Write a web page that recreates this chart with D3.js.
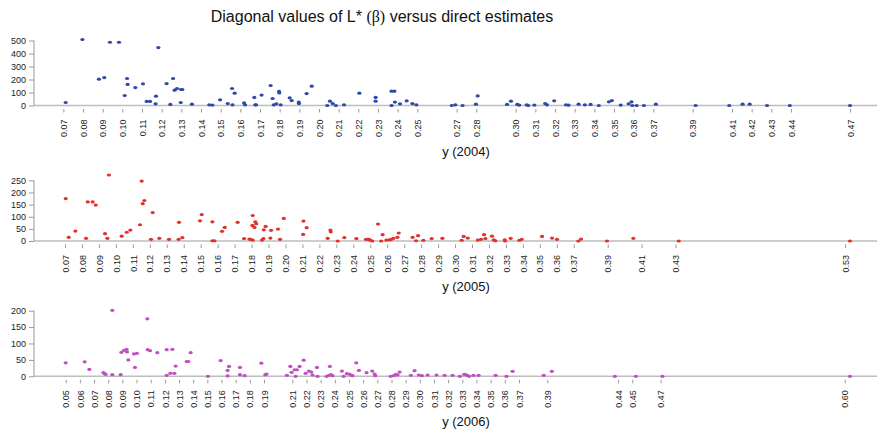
<!DOCTYPE html>
<html>
<head>
<meta charset="utf-8">
<script src="https://cdn.jsdelivr.net/npm/d3@7"></script>
<style>
  body { margin: 0; background: #fff; }
  text { font-family: "Liberation Sans", Arial, Helvetica, sans-serif; }
</style>
</head>
<body>
<div id="vis"></div>
<script>
// [x, value] pairs
const pts2004 = [
  [0.0712, 23], [0.0797, 508], [0.0881, 203], [0.0908, 215], [0.0937, 487], [0.0983, 487],
  [0.1012, 77], [0.1024, 208], [0.1027, 162], [0.1066, 138], [0.1105, 167], [0.1124, 31],
  [0.1141, 31], [0.1169, 13], [0.1171, 72], [0.1183, 446], [0.1225, 169], [0.1244, 8],
  [0.1258, 208], [0.1266, 118], [0.1278, 131], [0.1297, 23], [0.1298, 123], [0.1305, 123],
  [0.1354, 10], [0.1442, 5], [0.1458, 3], [0.1497, 44], [0.1536, 15], [0.1558, 131],
  [0.1560, 5], [0.1571, 95], [0.1619, 20], [0.1624, 5], [0.1671, 62], [0.1676, 5],
  [0.1680, 5], [0.1708, 80], [0.1754, 154], [0.1764, 54], [0.1770, 5], [0.1783, 13],
  [0.1797, 108], [0.1798, 97], [0.1805, 5], [0.1851, 59], [0.1861, 38], [0.1897, 26],
  [0.1898, 15], [0.1937, 92], [0.1963, 149], [0.2042, 0], [0.2056, 33], [0.2070, 15],
  [0.2086, 0], [0.2127, 5], [0.2205, 95], [0.2288, 62], [0.2288, 33], [0.2369, 110],
  [0.2383, 110], [0.2369, 0], [0.2386, 26], [0.2412, 13], [0.2446, 36], [0.2475, 15],
  [0.2495, 5], [0.2675, 0], [0.2693, 5], [0.2730, 0], [0.2798, 10], [0.2807, 74],
  [0.2956, 8], [0.2976, 33], [0.3008, 8], [0.3018, 3], [0.3056, 5], [0.3064, 0],
  [0.3095, 3], [0.3150, 15], [0.3159, 5], [0.3196, 36], [0.3256, 5], [0.3269, 3],
  [0.3320, 10], [0.3352, 5], [0.3381, 8], [0.3423, 0], [0.3474, 28], [0.3489, 38],
  [0.3534, 3], [0.3574, 13], [0.3589, 28], [0.3593, 0], [0.3615, 0], [0.3652, 0],
  [0.3713, 10], [0.3915, 0], [0.4086, 0], [0.4154, 10], [0.4190, 10], [0.4278, 0],
  [0.4394, 0], [0.4700, 0]
];

const pts2005 = [
  [0.0704, 175], [0.0722, 15], [0.0761, 41], [0.0824, 11], [0.0834, 161], [0.0863, 161],
  [0.0881, 148], [0.0936, 30], [0.0950, 11], [0.0959, 272], [0.1034, 20], [0.1064, 36],
  [0.1085, 45], [0.1142, 67], [0.1152, 247], [0.1158, 154], [0.1168, 167], [0.1207, 7],
  [0.1217, 117], [0.1256, 11], [0.1313, 7], [0.1370, 7], [0.1372, 77], [0.1392, 14],
  [0.1496, 83], [0.1506, 109], [0.1569, 79], [0.1569, 1], [0.1581, 1], [0.1626, 40],
  [0.1642, 56], [0.1718, 77], [0.1756, 10], [0.1787, 8], [0.1795, 7], [0.1805, 64],
  [0.1807, 105], [0.1807, 4], [0.1817, 56], [0.1822, 79], [0.1828, 71], [0.1862, 4],
  [0.1870, 10], [0.1872, 46], [0.1883, 60], [0.1911, 12], [0.1915, 44], [0.1956, 49],
  [0.1968, 7], [0.1990, 93], [0.2104, 27], [0.2106, 82], [0.2125, 55], [0.2249, 11],
  [0.2265, 45], [0.2267, 38], [0.2308, 0], [0.2347, 14], [0.2418, 10], [0.2475, 7],
  [0.2487, 7], [0.2493, 7], [0.2501, 3], [0.2512, 0], [0.2546, 70], [0.2564, 0],
  [0.2573, 26], [0.2595, 4], [0.2613, 5], [0.2624, 7], [0.2636, 11], [0.2660, 15],
  [0.2668, 33], [0.2750, 15], [0.2770, 1], [0.2782, 22], [0.2813, 3], [0.2862, 10],
  [0.2925, 11], [0.3039, 3], [0.3051, 19], [0.3075, 12], [0.3134, 4], [0.3153, 7],
  [0.3171, 26], [0.3179, 10], [0.3218, 20], [0.3228, 5], [0.3238, 1], [0.3293, 5],
  [0.3295, 0], [0.3328, 11], [0.3379, 3], [0.3393, 7], [0.3513, 19], [0.3572, 12],
  [0.3601, 7], [0.3727, 0], [0.3743, 8], [0.3896, 0], [0.4051, 11], [0.4319, 0],
  [0.5329, 0]
];

const pts2006 = [
  [0.0500, 41], [0.0634, 44], [0.0667, 21], [0.0766, 11], [0.0775, 8], [0.0782, 6],
  [0.0829, 201], [0.0829, 5], [0.0888, 5], [0.0893, 73], [0.0912, 79], [0.0930, 82],
  [0.0933, 74], [0.0942, 50], [0.0982, 68], [0.0989, 27], [0.1003, 70], [0.1076, 175],
  [0.1079, 81], [0.1095, 78], [0.1147, 72], [0.1213, 81], [0.1213, 3], [0.1239, 9],
  [0.1253, 82], [0.1267, 9], [0.1276, 31], [0.1354, 45], [0.1366, 45], [0.1382, 72],
  [0.1504, 0], [0.1594, 48], [0.1643, 18], [0.1643, 1], [0.1653, 30], [0.1730, 27],
  [0.1730, 5], [0.1763, 2], [0.1881, 40], [0.1909, 5], [0.1918, 7], [0.2062, 3],
  [0.2086, 30], [0.2095, 12], [0.2116, 20], [0.2123, 0], [0.2133, 20], [0.2151, 30],
  [0.2180, 49], [0.2194, 9], [0.2217, 16], [0.2234, 13], [0.2243, 4], [0.2274, 27],
  [0.2278, 0], [0.2342, 0], [0.2358, 3], [0.2365, 30], [0.2372, 5], [0.2384, 2],
  [0.2450, 16], [0.2462, 0], [0.2485, 8], [0.2502, 7], [0.2514, 4], [0.2525, 2],
  [0.2551, 41], [0.2570, 18], [0.2624, 11], [0.2664, 16], [0.2681, 7], [0.2685, 2],
  [0.2794, 0], [0.2817, 2], [0.2831, 6], [0.2843, 4], [0.2857, 13], [0.2937, 3],
  [0.2963, 17], [0.2993, 4], [0.3015, 2], [0.3055, 4], [0.3118, 4], [0.3175, 3],
  [0.3231, 3], [0.3283, 0], [0.3313, 6], [0.3323, 5], [0.3334, 3], [0.3348, 0],
  [0.3379, 3], [0.3415, 3], [0.3535, 3], [0.3612, 0], [0.3655, 15], [0.3875, 3],
  [0.3932, 15], [0.4377, 0], [0.4525, 0], [0.4713, 0], [0.6037, 0]
];

const ticks2004 = [0.07, 0.08, 0.09, 0.10, 0.11, 0.12, 0.13, 0.14, 0.15, 0.16, 0.17, 0.18, 0.19,
  0.20, 0.21, 0.22, 0.23, 0.24, 0.25, 0.27, 0.28, 0.30, 0.31, 0.32, 0.33, 0.34, 0.35, 0.36,
  0.37, 0.39, 0.41, 0.42, 0.43, 0.44, 0.47];
const ticks2005 = [0.07, 0.08, 0.09, 0.10, 0.11, 0.12, 0.13, 0.14, 0.15, 0.16, 0.17, 0.18, 0.19,
  0.20, 0.21, 0.22, 0.23, 0.24, 0.25, 0.26, 0.27, 0.28, 0.29, 0.30, 0.31, 0.32, 0.33, 0.34,
  0.35, 0.36, 0.37, 0.39, 0.41, 0.43, 0.53];
const ticks2006 = [0.05, 0.06, 0.07, 0.08, 0.09, 0.10, 0.11, 0.12, 0.13, 0.14, 0.15, 0.16, 0.17,
  0.18, 0.19, 0.21, 0.22, 0.23, 0.24, 0.25, 0.26, 0.27, 0.28, 0.29, 0.30, 0.31, 0.32, 0.33,
  0.34, 0.35, 0.36, 0.37, 0.39, 0.44, 0.45, 0.47, 0.60];

const years = ["2004", "2005", "2006"];

const width = 877, height = 433;
const axisX = 34, plotLeft = 65.7, plotRight = 850, plotH = 66;

const panels = [
  { year: years[0], pts: pts2004, ticks: ticks2004, color: "#2f49a8", base: 105.5 },
  { year: years[1], pts: pts2005, ticks: ticks2005, color: "#e3302b", base: 241 },
  { year: years[2], pts: pts2006, ticks: ticks2006, color: "#c24ec4", base: 376.3 }
];

const svg = d3.select("#vis").append("svg")
  .attr("width", width)
  .attr("height", height);

// title, with the beta in a serif face like the original
const title = svg.append("text")
  .attr("x", 382)
  .attr("y", 22)
  .attr("text-anchor", "middle")
  .style("font-size", "16px")
  .style("fill", "#111");
title.append("tspan").text("Diagonal values of L* ");
title.append("tspan").style("font-family", "'Liberation Serif', 'DejaVu Serif', serif").text("(β)");
title.append("tspan").text(" versus direct estimates");

const fmt = d3.format(".2f");

panels.forEach(p => {
  const x = d3.scaleLinear()
    .domain(d3.extent(p.pts, d => d[0]))
    .range([plotLeft, plotRight]);
  const y = d3.scaleLinear()
    .domain([0, d3.max(p.pts, d => d[1])])
    .range([p.base, p.base - plotH]);
  const yTicks = y.ticks(5);

  const g = svg.append("g");

  // zero line across the panel
  g.append("line")
    .attr("x1", axisX).attr("x2", width)
    .attr("y1", y(0)).attr("y2", y(0))
    .attr("stroke", "#bdbdbd")
    .attr("stroke-width", 1.6);

  // y axis
  const yAxis = g.append("g")
    .attr("transform", `translate(${axisX},0)`)
    .call(d3.axisLeft(y).tickValues(yTicks).tickSize(5).tickPadding(3));
  yAxis.select(".domain").remove();
  yAxis.selectAll(".tick line").attr("stroke", "#999");
  yAxis.selectAll(".tick text")
    .style("font-size", "9px")
    .style("fill", "#222");
  yAxis.append("line")
    .attr("x1", 0).attr("x2", 0)
    .attr("y1", y(0)).attr("y2", y(yTicks[yTicks.length - 1]))
    .attr("stroke", "#999");

  // x axis: ticks hang just under the zero line
  const xAxis = g.append("g")
    .attr("transform", `translate(0,${p.base + 3.5})`)
    .call(d3.axisBottom(x).tickValues(p.ticks).tickFormat(fmt).tickSize(3.5).tickPadding(0));
  xAxis.select(".domain").remove();
  xAxis.selectAll(".tick line").attr("stroke", "#999");
  xAxis.selectAll(".tick text")
    .attr("transform", "rotate(-90)")
    .attr("x", -10.5)
    .attr("y", 0)
    .attr("dy", "0.35em")
    .attr("text-anchor", "end")
    .style("font-size", "9px")
    .style("fill", "#222");

  g.append("text")
    .attr("x", 466)
    .attr("y", p.base + 50)
    .attr("text-anchor", "middle")
    .style("font-size", "13px")
    .style("fill", "#111")
    .text(`y (${p.year})`);

  g.selectAll("ellipse.pt")
    .data(p.pts)
    .enter().append("ellipse")
    .attr("class", "pt")
    .attr("cx", d => x(d[0]))
    .attr("cy", d => y(d[1]))
    .attr("rx", 2.1)
    .attr("ry", 1.6)
    .attr("fill", p.color);
});
</script>
</body>
</html>
